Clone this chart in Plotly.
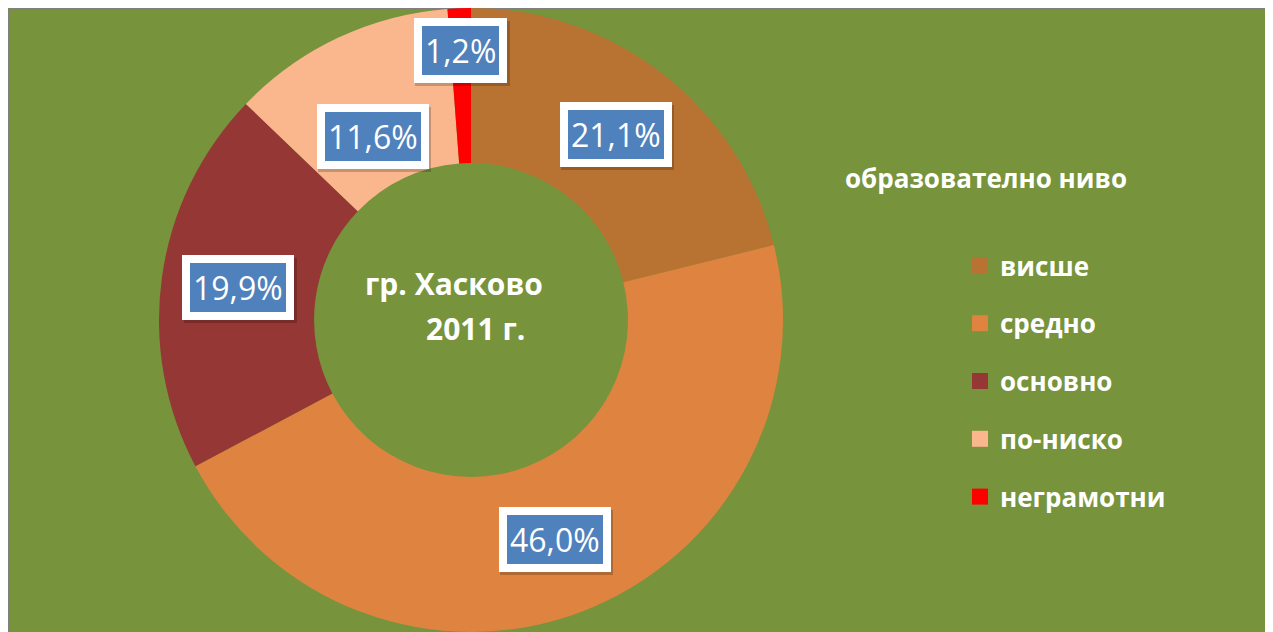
import math
import plotly.graph_objects as go

# ---- data ----
categories = ["висше", "средно", "основно", "по-ниско", "неграмотни"]
values = [21.1, 46.0, 19.9, 11.6, 1.2]
center_title = ["гр. Хасково", "2011 г."]
legend_title = "образователно ниво"

# ---- style ----
colors = ["#B87333", "#DE8440", "#953735", "#FAB78E", "#FF0000"]
bg_green = "#77933C"
box_blue = "#4F81BD"
W, H = 1264, 640
cx, cy, R = 463, 312, 312            # pie centre / radius in figure px
label_r = [235, 235, 235, 208, 270]  # label distance from centre (px)
label_dang = [0, 0, 0, -3, 0]        # label angle nudges (deg)
font_fam = "Open Sans"

fig = go.Figure()

fig.add_trace(go.Pie(
    labels=categories, values=values, hole=0.503, sort=False,
    direction="clockwise", rotation=0,
    marker=dict(colors=colors, line=dict(width=0)),
    textinfo="none", showlegend=False,
    domain=dict(x=[(cx - R) / W, (cx + R) / W], y=[(H - cy - R) / H, (H - cy + R) / H]),
))

# legend entries (dummy traces so item spacing can be controlled)
for name, col in zip(categories, colors):
    fig.add_trace(go.Scatter(
        x=[None], y=[None], mode="markers", name=name, legendgroup=name,
        marker=dict(symbol="square", size=18, color=col, line=dict(width=0)),
    ))

annotations = []
total = sum(values)
cum = 0.0
for v, r, da in zip(values, label_r, label_dang):
    mid = (cum + v / 2) / total * 2 * math.pi + math.radians(da)
    cum += v
    px = cx + r * math.sin(mid)
    py = cy - r * math.cos(mid)
    txt = f"{v:.1f}%".replace(".", ",")
    # soft shadow box (blank text of similar width)
    annotations.append(dict(
        x=px / W, y=1 - py / H, xref="paper", yref="paper", showarrow=False,
        xanchor="center", yanchor="middle",
        text="\u2007" * len(txt), font=dict(family=font_fam, size=32, color="rgba(0,0,0,0)"),
        bgcolor="rgba(0,0,0,0.2)", borderpad=11, borderwidth=0,
        xshift=2, yshift=-3,
    ))
    annotations.append(dict(
        x=px / W, y=1 - py / H, xref="paper", yref="paper", showarrow=False,
        xanchor="center", yanchor="middle",
        text=txt, font=dict(family=font_fam, size=32, color="white"),
        bgcolor=box_blue, bordercolor="white", borderwidth=8, borderpad=3,
    ))

annotations.append(dict(
    x=(cx - 17) / W, y=1 - (cy - 37) / H, xref="paper", yref="paper", showarrow=False,
    xanchor="center", yanchor="middle",
    text=f"<b>{center_title[0]}</b>", font=dict(family=font_fam, size=30, color="white"),
))
annotations.append(dict(
    x=(cx + 4) / W, y=1 - (cy + 8) / H, xref="paper", yref="paper", showarrow=False,
    xanchor="center", yanchor="middle",
    text=f"<b>{center_title[1]}</b>", font=dict(family=font_fam, size=30, color="white"),
))
annotations.append(dict(
    x=978 / W, y=1 - 170 / H, xref="paper", yref="paper", showarrow=False,
    xanchor="center", yanchor="middle",
    text=f"<b>{legend_title}</b>", font=dict(family=font_fam, size=26, color="white"),
))

fig.update_layout(
    width=W, height=H,
    margin=dict(l=0, r=0, t=0, b=0),
    paper_bgcolor=bg_green, plot_bgcolor="rgba(0,0,0,0)",
    xaxis=dict(visible=False), yaxis=dict(visible=False),
    shapes=[dict(
        type="rect", xref="paper", yref="paper", layer="below",
        x0=0.5 / W, x1=1 - 0.5 / W, y0=-0.01, y1=1 - 0.5 / H,
        fillcolor=bg_green, line=dict(color="#7F7F7F", width=1),
    )],
    annotations=annotations,
    legend=dict(
        x=952 / W, y=1 - 234 / H, xanchor="left", yanchor="top",
        bgcolor="rgba(0,0,0,0)", traceorder="grouped", tracegroupgap=21,
        font=dict(family=font_fam, size=26, color="white", weight="bold"),
    ),
    hovermode=False,
)

fig.write_html("out.html", post_script="document.body.style.overflow='hidden';")
